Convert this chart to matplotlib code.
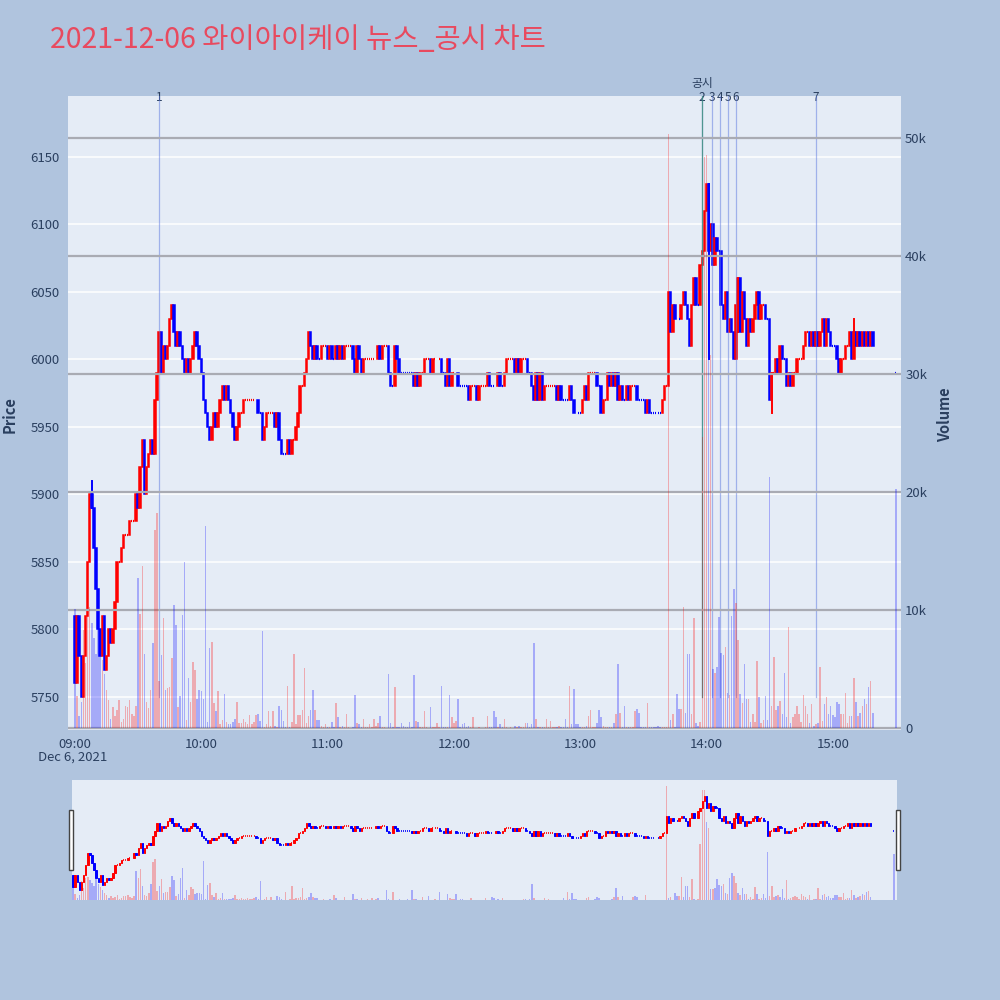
import numpy as np
import matplotlib.pyplot as plt
from matplotlib.patches import Rectangle
import matplotlib.transforms as mtransforms

plt.rcParams['font.family'] = ['Noto Sans CJK KR', 'DejaVu Sans']

title = '2021-12-06 와이아이케이 뉴스_공시 차트'

# close price per minute, 09:00 .. 15:30 (None = no trade)
close_09 = [5760, 5810, 5780, 5750, 5780, 5810, 5850, 5900, 5890, 5860,
            5830, 5800, 5780, 5810, 5770, 5780, 5800, 5790, 5800, 5820,
            5850, 5850, 5860, 5870, 5870, 5870, 5880, 5880, 5880, 5900,
            5890, 5920, 5940, 5900, 5920, 5930, 5940, 5930, 5970, 5990,
            6020, 5990, 6010, 6000, 6010, 6030, 6040, 6020, 6010, 6020,
            6010, 6000, 5990, 6000, 5990, 6000, 6010, 6020, 6010, 6000]
close_10 = [5990, 5970, 5960, 5950, 5940, 5950, 5960, 5950, 5960, 5970,
            5980, 5970, 5980, 5970, 5960, 5950, 5940, 5950, 5960, 5960,
            5970, 5970, 5970, 5970, 5970, 5970, 5970, 5960, 5960, 5940,
            5950, 5960, 5960, 5960, 5960, 5950, 5960, 5940, 5930, 5930,
            5930, 5940, 5930, 5940, 5940, 5950, 5960, 5980, 5980, 5990,
            6000, 6020, 6010, 6000, 6010, 6000, 6000, 6010, 6010, 6010]
close_11 = [6000, 6010, 6000, 6000, 6010, 6000, 6010, 6000, 6010, 6010,
            6010, 6010, 6000, 5990, 6010, 6000, 5990, 6000, 6000, 6000,
            6000, 6000, 6000, 6000, 6010, 6000, 6010, 6010, 6010, 5990,
            5980, 5980, 6010, 6000, 5990, 5990, 5990, 5990, 5990, 5990,
            5990, 5980, 5990, 5980, 5990, 5990, 6000, 6000, 6000, 5990,
            6000, 6000, 6000, 6000, 5990, 5990, 5980, 6000, 5980, 5990]
close_12 = [5990, 5990, 5980, 5980, 5980, 5980, 5980, 5970, 5980, 5980,
            5980, 5970, 5980, 5980, 5980, 5980, 5990, 5980, 5980, 5980,
            5980, 5990, 5980, 5980, 5990, 6000, 6000, 6000, 6000, 5990,
            6000, 5990, 6000, 6000, 6000, 5990, 5990, 5980, 5970, 5990,
            5970, 5990, 5970, 5980, 5980, 5980, 5980, 5980, 5980, 5970,
            5980, 5970, 5970, 5970, 5970, 5980, 5970, 5960, 5960, 5960]
close_13 = [5960, 5970, 5980, 5970, 5990, 5990, 5990, 5990, 5980, 5980,
            5960, 5970, 5970, 5990, 5980, 5990, 5980, 5990, 5970, 5980,
            5970, 5970, 5980, 5970, 5980, 5980, 5980, 5970, 5970, 5970,
            5970, 5960, 5970, 5960, 5960, 5960, 5960, 5960, 5960, 5970,
            5980, 5980, 6050, 6020, 6040, 6030, 6030, 6030, 6040, 6050,
            6040, 6030, 6010, 6040, 6060, 6040, 6040, 6070, 6080, 6110]
close_14 = [6130, 6080, 6100, 6070, 6090, 6080, 6080, 6040, 6030, 6050,
            6020, 6030, 6020, 6000, 6040, 6060, 6020, 6050, 6030, 6010,
            6030, 6020, 6030, 6040, 6050, 6030, 6040, 6040, 6030, 6030,
            5970, 5990, 5990, 6000, 5990, 6010, 6000, 6000, 5980, 5990,
            5980, 5990, 5990, 6000, 6000, 6000, 6010, 6020, 6020, 6010,
            6020, 6010, 6020, 6010, 6020, 6030, 6010, 6030, 6020, 6010]
close_15 = [6010, 6010, 6000, 5990, 6000, 6000, 6010, 6010, 6020, 6000,
            6020, 6010, 6020, 6010, 6020, 6010, 6020, 6010, 6020, 6010,
            None, None, None, None, None, None, None, None, None, None,
            5990]

# volume per minute, in thousands
vol_09 = [10.1, 2.7, 1.0, 2.2, 8.3, 5.5, 9.7, 10.3, 8.9, 7.6,
          6.3, 9.4, 6.9, 5.8, 4.6, 3.2, 2.4, 0.8, 1.8, 1.0,
          1.5, 2.4, 0.5, 0.8, 1.9, 1.8, 2.4, 1.2, 1.0, 1.9,
          12.7, 9.7, 13.7, 6.3, 2.2, 1.7, 3.2, 7.2, 16.8, 18.2,
          4.0, 6.2, 9.3, 3.2, 3.4, 3.5, 5.9, 10.4, 8.7, 1.8,
          2.7, 9.6, 14.1, 0.7, 4.2, 2.2, 5.6, 4.9, 2.5, 3.2]
vol_10 = [3.1, 2.5, 17.1, 0.5, 6.8, 7.3, 2.1, 1.4, 3.1, 0.3,
          0.7, 2.9, 0.5, 0.3, 0.3, 0.5, 0.8, 2.2, 0.4, 0.4,
          0.8, 0.5, 0.3, 1.1, 0.3, 0.5, 1.1, 1.2, 0.6, 8.2,
          0.1, 0.3, 1.4, 0.2, 1.4, 0.2, 0.1, 1.9, 1.5, 0.6,
          0.1, 3.6, 0.1, 0.5, 6.3, 0.3, 1.1, 1.1, 1.5, 5.1,
          0.4, 1.0, 1.5, 3.2, 1.5, 0.7, 0.7, 0.2, 0.1, 0.3]
vol_11 = [0.1, 0.1, 0.5, 0.1, 2.1, 0.9, 0.1, 0.2, 0.1, 1.2,
          0.1, 0.0, 0.1, 2.8, 0.4, 0.3, 0.1, 0.8, 0.1, 0.1,
          0.3, 0.1, 0.8, 0.2, 0.4, 1.0, 0.1, 0.1, 0.0, 4.6,
          0.4, 0.1, 3.5, 0.1, 0.1, 0.4, 0.2, 0.1, 0.1, 0.5,
          0.1, 4.5, 0.6, 0.5, 0.1, 0.1, 1.4, 0.1, 0.0, 1.8,
          0.1, 0.1, 0.4, 0.1, 3.6, 0.1, 0.1, 0.1, 2.8, 0.9]
vol_12 = [0.4, 0.6, 2.5, 0.1, 0.3, 0.4, 0.1, 0.2, 0.1, 0.9,
          0.0, 0.0, 0.1, 0.0, 0.0, 0.1, 1.0, 0.1, 0.1, 1.4,
          0.9, 0.1, 0.3, 0.1, 0.8, 0.1, 0.0, 0.1, 0.0, 0.2,
          0.1, 0.2, 0.1, 0.1, 0.4, 0.4, 0.1, 0.3, 7.2, 0.8,
          0.1, 0.1, 0.1, 0.1, 0.8, 0.1, 0.6, 0.1, 0.1, 0.1,
          0.2, 0.1, 0.1, 0.8, 0.1, 3.6, 0.3, 3.3, 0.3, 0.3]
vol_13 = [0.1, 0.1, 0.1, 0.2, 1.0, 1.5, 0.1, 0.1, 0.4, 1.5,
          0.9, 0.2, 0.1, 0.1, 0.1, 0.1, 0.4, 1.2, 5.4, 1.3,
          0.1, 1.9, 0.1, 0.1, 0.1, 0.1, 1.4, 1.6, 1.3, 0.1,
          0.1, 0.1, 2.1, 0.1, 0.1, 0.1, 0.1, 0.2, 0.1, 0.1,
          0.1, 0.1, 50.4, 0.7, 1.2, 0.1, 2.9, 1.6, 1.6, 10.3,
          1.3, 6.3, 6.3, 1.2, 9.3, 0.4, 0.2, 0.5, 24.7, 48.4]
vol_14 = [48.6, 34.2, 31.6, 5.0, 4.7, 5.2, 9.4, 6.4, 6.2, 6.9,
          3.0, 2.8, 9.5, 11.8, 10.6, 7.5, 2.9, 2.1, 5.4, 2.5,
          2.5, 0.5, 1.2, 0.5, 5.7, 2.6, 0.4, 0.7, 2.7, 0.7,
          21.3, 1.9, 6.0, 1.5, 1.9, 2.3, 1.2, 4.7, 0.9, 8.6,
          0.4, 0.9, 1.2, 1.9, 1.2, 0.5, 2.8, 1.9, 1.2, 0.4,
          2.0, 0.2, 0.3, 0.4, 5.2, 0.6, 2.0, 2.6, 1.2, 1.9]
vol_15 = [1.1, 0.9, 2.2, 2.0, 1.2, 1.2, 3.0, 0.4, 1.0, 1.0,
          4.2, 2.2, 1.0, 1.3, 1.9, 2.5, 2.0, 3.5, 4.0, 1.3,
          None, None, None, None, None, None, None, None, None, None,
          20.3]

# opens that differ from the previous close
open_override = {0: 5810, 390: 5990}
# wicks: minute, low, high
wick_min = [8, 301, 315, 331, 370]
wick_low = [5890, 6000, 6020, 5960, 6010]
wick_high = [5910, 6130, 6060, 5990, 6030]

# news / disclosure markers (minute from 09:00)
news_min = [40, 298, 302.6, 306.4, 310.3, 313.8, 351.9]
news_lab = ['1', '2', '3', '4', '5', '6', '7']
disc_min = 297.8
tick_min = [0, 60, 120, 180, 240, 300, 360]
tick_lab = ['09:00', '10:00', '11:00', '12:00', '13:00', '14:00', '15:00']
price_ticks = [5750, 5800, 5850, 5900, 5950, 6000, 6050, 6100, 6150]
vol_ticks = [0, 10, 20, 30, 40, 50]

close = close_09 + close_10 + close_11 + close_12 + close_13 + close_14 + close_15
vol = vol_09 + vol_10 + vol_11 + vol_12 + vol_13 + vol_14 + vol_15

RED, BLUE = '#ff0000', '#0000ff'
TXT = '#2a3f5f'
BG = '#b0c4de'
PLOT_BG = '#e5ecf6'

# build opens and colours
xs, opens, closes, cols, vols = [], [], [], [], []
prev, prev_col = None, RED
for i, c in enumerate(close):
    if c is None:
        continue
    o = open_override.get(i, prev if prev is not None else c)
    if c > o:
        col = RED
    elif c < o:
        col = BLUE
    else:
        if prev is not None and c > prev:
            col = RED
        elif prev is not None and c < prev:
            col = BLUE
        else:
            col = prev_col
    xs.append(i); opens.append(o); closes.append(c); cols.append(col)
    vols.append(vol[i] if vol[i] is not None else 0)
    prev, prev_col = c, col
xs = np.array(xs); opens = np.array(opens); closes = np.array(closes)
cols = np.array(cols)
lo = np.minimum(opens, closes)
hi = np.maximum(opens, closes)
body = hi > lo
doji = ~body


def draw_candles(a, lw, dash_lw):
    a.bar(xs[body], (hi - lo)[body], bottom=lo[body], width=0.7,
          color=cols[body], edgecolor=cols[body], linewidth=lw, zorder=3)
    a.hlines(closes[doji], xs[doji] - 0.22, xs[doji] + 0.22,
             colors=cols[doji], lw=dash_lw, zorder=3)


fig = plt.figure(figsize=(10, 10), dpi=100, facecolor=BG)

XL = (-3.3, 392.4)
ax = fig.add_axes([0.068, 0.270, 0.833, 0.634], facecolor=PLOT_BG)
ax.set_xlim(*XL)
ax.set_ylim(5725.5, 6195)
for s in ax.spines.values():
    s.set_visible(False)
ax.set_yticks(price_ticks)
ax.grid(axis='y', color='white', lw=1.1, zorder=0)
ax.set_xticks(tick_min)
ax.set_xticklabels(tick_lab)
ax.tick_params(length=0, colors=TXT, labelsize=9.5, pad=6)
ax.set_axisbelow(True)

draw_candles(ax, 1.1, 1.6)
xl = list(xs)
for m, l, h in zip(wick_min, wick_low, wick_high):
    ax.plot([m, m], [l, h], color=cols[xl.index(m)], lw=1.4, zorder=3)

# marker lines
ytop = 6195
for m in news_min:
    ax.plot([m, m], [5750, ytop], color='#5b78e0', alpha=0.5, lw=0.9, zorder=4)
ax.plot([disc_min, disc_min], [5750, ytop], color='#2e8b6a', alpha=0.7, lw=0.9, zorder=4)
tr = mtransforms.blended_transform_factory(ax.transData, ax.transAxes)
for m, t in zip(news_min, news_lab):
    ax.text(m, 0.998, t, transform=tr, ha='center', va='center', fontsize=8.5, color=TXT)
ax.text(disc_min, 1.0205, '공시', transform=tr, ha='center', va='center', fontsize=8.5, color=TXT)

# volume on the right axis
ax2 = ax.twinx()
ax2.set_ylim(-0.17, 53.6)
ax2.set_xlim(*XL)
for s in ax2.spines.values():
    s.set_visible(False)
ax2.bar(xs, vols, width=0.7, color=cols, alpha=0.28, zorder=2)
ax2.set_yticks(vol_ticks)
ax2.set_yticklabels(['0'] + ['%dk' % v for v in vol_ticks[1:]])
ax2.grid(axis='y', color='#a9abb3', lw=1.6, zorder=1)
ax2.tick_params(length=0, colors=TXT, labelsize=9.5, pad=3)
ax2.set_axisbelow(True)

fig.text(0.073, 0.243, 'Dec 6, 2021', ha='center', va='center', fontsize=9.5, color=TXT)
fig.text(0.05, 0.96, title, ha='left', va='center', fontsize=20.5, color='#e84a5f')
fig.text(0.01, 0.585, 'Price', rotation=90, ha='center', va='center',
         fontsize=10.5, fontweight='bold', color=TXT)
fig.text(0.945, 0.585, 'Volume', rotation=90, ha='center', va='center',
         fontsize=10.5, fontweight='bold', color=TXT)

# range slider
sl = fig.add_axes([0.072, 0.100, 0.825, 0.120], facecolor=PLOT_BG)
sl.set_xlim(-0.5, 391.5)
sl.set_ylim(5709, 6195)
sl.set_xticks([]); sl.set_yticks([])
for s in sl.spines.values():
    s.set_visible(False)
draw_candles(sl, 0.7, 1.2)
sl2 = sl.twinx()
sl2.set_ylim(0, 52.9)
sl2.set_yticks([])
for s in sl2.spines.values():
    s.set_visible(False)
sl2.bar(xs, vols, width=0.7, color=cols, alpha=0.28)

for hx in (0.0685, 0.8955):
    fig.patches.append(Rectangle((hx, 0.130), 0.0045, 0.060, transform=fig.transFigure,
                                 facecolor='white', edgecolor='#444444', lw=1))

fig.savefig('out.png', dpi=100, facecolor=BG)
